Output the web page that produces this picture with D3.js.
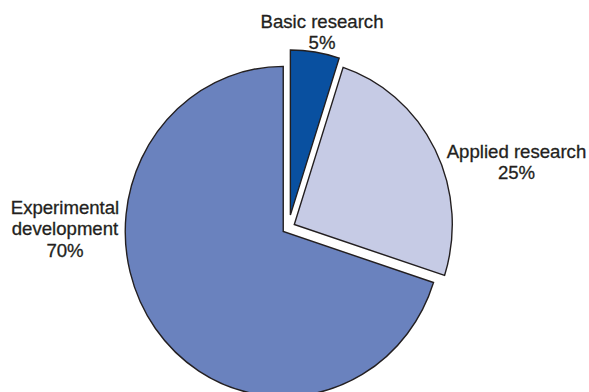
<!DOCTYPE html>
<html>
<head>
<meta charset="utf-8">
<script src="https://cdn.jsdelivr.net/npm/d3@7/dist/d3.min.js"></script>
<style>
  html, body { margin: 0; padding: 0; background: #fff; }
  svg { display: block; }
  text { font-family: "Liberation Sans", Arial, sans-serif; fill: #231f20; }
</style>
</head>
<body>
<svg id="chart" width="589" height="392"></svg>
<script>
// R&D expenditure by type of activity
const categories = ["Basic research", "Applied research", "Experimental development"];
const labelLines = [["Basic research"], ["Applied research"], ["Experimental", "development"]];
const shares = [5, 25, 70];
const colors = ["#0950a0", "#c6cbe5", "#6a82be"];

const W = 589, H = 392;
const cx = 288.5, cy = 227.5;
const radius = 158;
const yStretch = 1.045;
const explode = [12, 6.5, 6.5];

const svg = d3.select("#chart");

const pie = d3.pie().sort(null).value(d => d)(shares);
const arc = d3.arc().innerRadius(0).outerRadius(radius);

const g = svg.append("g")
  .attr("transform", `translate(${cx},${cy}) scale(1,${yStretch})`);

g.selectAll("path.slice")
  .data(pie)
  .join("path")
  .attr("class", "slice")
  .attr("transform", (d, i) => {
    const a = (d.startAngle + d.endAngle) / 2;
    return `translate(${explode[i] * Math.sin(a)},${-explode[i] * Math.cos(a)})`;
  })
  .attr("d", arc)
  .attr("fill", (d, i) => colors[i])
  .attr("stroke", "#231f20")
  .attr("stroke-width", 1.4)
  .attr("stroke-linejoin", "miter");

// Category labels with percentage beneath
const labelAnchor = [
  { x: 322, y: 27.5 },
  { x: 516.5, y: 157.5 },
  { x: 65, y: 214 }
];
const lineGap = 21.4;

labelAnchor.forEach((p, i) => {
  const t = svg.append("text")
    .attr("text-anchor", "middle")
    .attr("font-size", 18.6)
    .attr("stroke", "#231f20")
    .attr("stroke-width", 0.3)
    .attr("x", p.x)
    .attr("y", p.y);
  const lines = labelLines[i].concat([shares[i] + "%"]);
  lines.forEach((ln, j) => {
    t.append("tspan")
      .attr("x", p.x)
      .attr("y", p.y + j * lineGap)
      .text(ln);
  });
});
</script>
</body>
</html>
